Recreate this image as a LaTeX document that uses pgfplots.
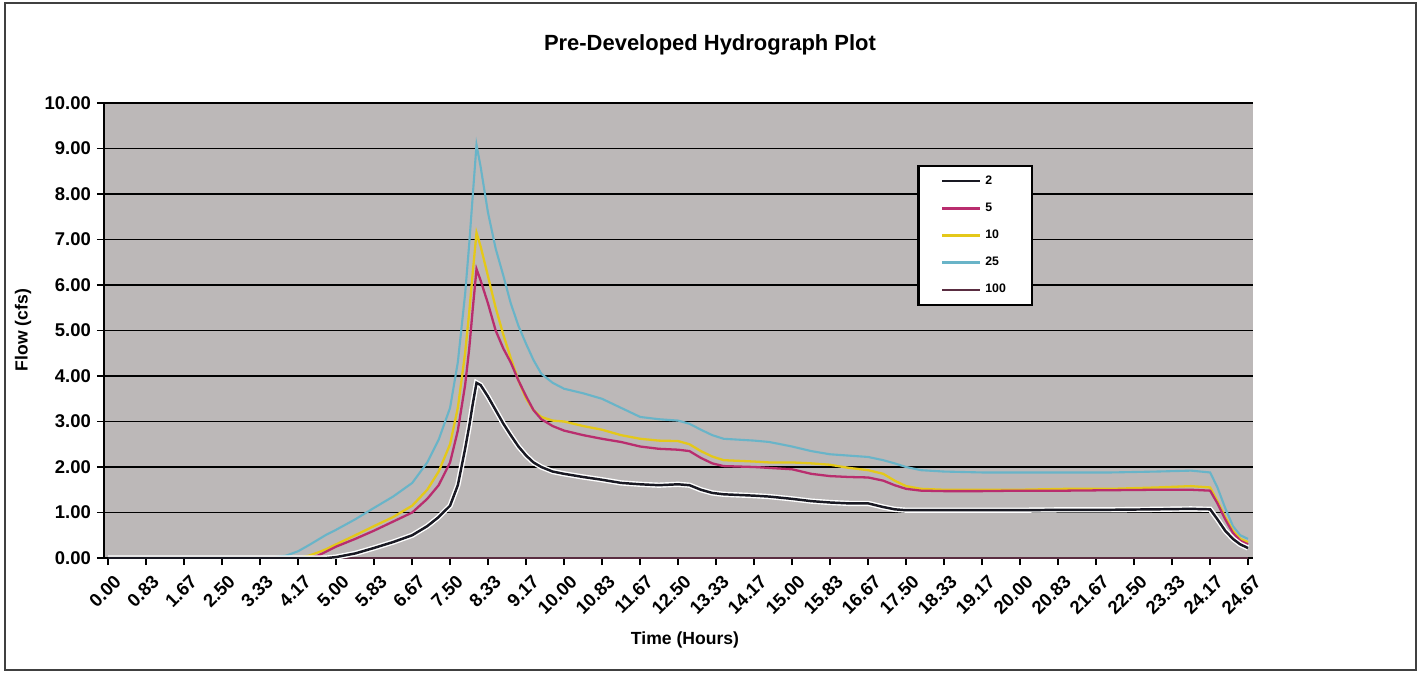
\documentclass[border=0pt]{standalone}
\usepackage{pgfplots}
\pgfplotsset{compat=1.18}
\usepackage{pgfplotstable}
\usepackage{fontspec}
\setmainfont{Liberation Sans}

\definecolor{plotgray}{RGB}{188,184,184}
\definecolor{c2}{RGB}{25,25,35}
\definecolor{c5}{RGB}{185,45,110}
\definecolor{c10}{RGB}{228,200,25}
\definecolor{c25}{RGB}{105,180,200}
\definecolor{c100}{RGB}{90,45,65}

% time (h), flow (cfs) for the five storms
\pgfplotstableread{
h     q2    q5    q10   q25   q100
0     0     0     0     0     0
3.5   0     0     0     0     0
3.9   0     0     0     0.05  0
4.17  0     0     0     0.15  0
4.4   0     0     0.05  0.28  0
4.6   0     0.05  0.12  0.40  0
4.8   0     0.15  0.20  0.52  0
5.0   0.02  0.25  0.30  0.62  0
5.42  0.10  0.42  0.50  0.85  0
5.83  0.22  0.60  0.70  1.10  0
6.25  0.35  0.80  0.90  1.35  0
6.67  0.50  1.00  1.15  1.65  0
7.0   0.70  1.30  1.50  2.10  0
7.25  0.90  1.60  1.90  2.60  0
7.5   1.15  2.10  2.50  3.30  0
7.67  1.60  2.80  3.30  4.30  0
7.83  2.40  3.80  4.50  5.80  0
7.92  2.90  4.60  5.40  6.90  0
8.0   3.40  5.50  6.30  8.00  0
8.08  3.85  6.35  7.15  9.08  0
8.17  3.80  6.10  6.85  8.60  0
8.33  3.55  5.60  6.20  7.60  0
8.5   3.25  5.00  5.50  6.80  0
8.67  2.95  4.60  4.90  6.20  0
8.83  2.70  4.30  4.40  5.60  0
9.0   2.45  3.90  3.90  5.10  0
9.17  2.25  3.55  3.50  4.70  0
9.33  2.10  3.25  3.25  4.35  0
9.5   2.00  3.05  3.10  4.05  0
9.75  1.90  2.90  3.02  3.85  0
10.0  1.85  2.80  3.00  3.72  0
10.42 1.78  2.70  2.90  3.62  0
10.83 1.72  2.62  2.82  3.50  0
11.25 1.65  2.55  2.70  3.30  0
11.67 1.62  2.45  2.62  3.10  0
12.08 1.60  2.40  2.58  3.05  0
12.5  1.62  2.38  2.57  3.02  0
12.75 1.60  2.35  2.50  2.95  0
13.0  1.50  2.20  2.35  2.82  0
13.25 1.43  2.08  2.23  2.70  0
13.5  1.40  2.02  2.15  2.62  0
14.17 1.37  2.00  2.12  2.58  0
14.5  1.35  1.98  2.10  2.55  0
15.0  1.30  1.95  2.10  2.45  0
15.42 1.25  1.85  2.08  2.35  0
15.83 1.22  1.80  2.05  2.28  0
16.25 1.20  1.78  1.98  2.25  0
16.67 1.20  1.77  1.93  2.22  0
17.0  1.12  1.70  1.85  2.15  0
17.25 1.07  1.60  1.70  2.08  0
17.5  1.05  1.52  1.58  2.00  0
17.83 1.05  1.48  1.52  1.93  0
18.33 1.05  1.47  1.50  1.90  0
19.17 1.05  1.47  1.50  1.88  0
20.0  1.05  1.48  1.50  1.88  0
21.0  1.06  1.48  1.52  1.88  0
22.0  1.06  1.49  1.52  1.88  0
23.0  1.07  1.50  1.55  1.90  0
23.75 1.08  1.50  1.58  1.92  0
24.17 1.07  1.48  1.55  1.88  0
24.33 0.85  1.20  1.25  1.55  0
24.5  0.60  0.85  0.90  1.10  0
24.67 0.42  0.55  0.60  0.70  0
24.83 0.30  0.38  0.42  0.50  0
25.0  0.22  0.30  0.35  0.42  0
}\hydro

\begin{document}
\begin{tikzpicture}
\useasboundingbox (0,0) rectangle (28.42,13.5);
\draw[line width=1.2pt,black!75] (0.1,0.1) rectangle (28.32,13.44);
\node[font=\bfseries\fontsize{12.5}{15}\selectfont] at (14.2,12.6) {Pre-Developed Hydrograph Plot};
\node[font=\bfseries\fontsize{10}{12}\selectfont,rotate=90] at (0.46,6.9) {Flow (cfs)};
\node[font=\bfseries\fontsize{10}{12}\selectfont] at (13.7,0.7) {Time (Hours)};
\begin{axis}[
    at={(2.08cm,2.34cm)}, anchor=south west,
    scale only axis,
    width=22.98cm, height=9.1cm,
    axis background/.style={fill=plotgray},
    axis lines=left,
    axis line style={black, line width=1pt, -},
    xmin=-0.09, xmax=25.11,
    ymin=0, ymax=10,
    ytick={0,1,...,10},
    ymajorgrids,
    grid style={black, line width=1pt},
    yticklabel style={font=\bfseries\fontsize{10.5}{12}\selectfont, /pgf/number format/.cd, fixed, fixed zerofill, precision=2, assume math mode=true},
    xtick={0,0.8333,1.6667,2.5,3.3333,4.1667,5,5.8333,6.6667,7.5,8.3333,9.1667,10,10.8333,11.6667,12.5,13.3333,14.1667,15,15.8333,16.6667,17.5,18.3333,19.1667,20,20.8333,21.6667,22.5,23.3333,24.1667,25},
    xticklabels={0.00,0.83,1.67,2.50,3.33,4.17,5.00,5.83,6.67,7.50,8.33,9.17,10.00,10.83,11.67,12.50,13.33,14.17,15.00,15.83,16.67,17.50,18.33,19.17,20.00,20.83,21.67,22.50,23.33,24.17,24.67},
    xticklabel style={font=\bfseries\fontsize{10.5}{12}\selectfont, rotate=45, anchor=north east, yshift=-2pt, xshift=2pt},
    minor x tick num=9,
    tick align=outside,
    major tick length=0.14cm,
    minor tick length=0.09cm,
    tick style={black, line width=0.8pt},
    reverse legend,
    legend style={at={(0.708,0.864)}, anchor=north west, draw=black, line width=1.2pt,
        fill=white, font=\bfseries\fontsize{7}{8}\selectfont,
        inner xsep=0.45cm, inner ysep=0.12cm, row sep=0.18cm},
    legend cell align=left,
    legend image code/.code={\draw[#1, line width=1.6pt] (0cm,0cm) -- (0.76cm,0cm);},
]
\addplot[c100, line width=1.4pt] table[x=h, y=q100] {\hydro};
\addlegendentry{100}
\addplot[c25, line width=1.2pt] table[x=h, y=q25] {\hydro};
\addlegendentry{25}
\addplot[c10, line width=1.3pt] table[x=h, y=q10] {\hydro};
\addlegendentry{10}
\addplot[c5, line width=1.3pt] table[x=h, y=q5] {\hydro};
\addlegendentry{5}
\addplot[white, line width=3pt, forget plot] table[x=h, y=q2] {\hydro};
\addplot[c2, line width=1.4pt] table[x=h, y=q2] {\hydro};
\addlegendentry{2}
\end{axis}
\end{tikzpicture}
\end{document}
